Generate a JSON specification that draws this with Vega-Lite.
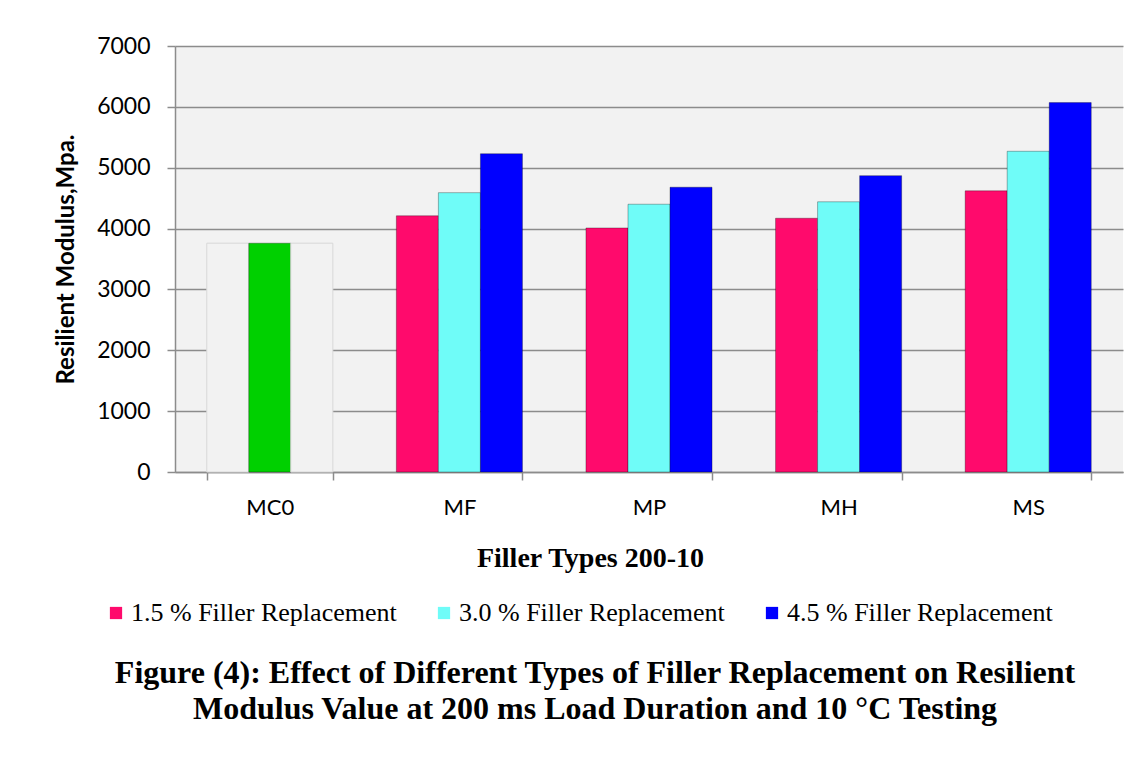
{
  "$schema": "https://vega.github.io/schema/vega-lite/v6.json",
  "autosize": {"type": "none"},
  "width": 948,
  "height": 426,
  "padding": {"left": 175, "top": 46, "right": 17, "bottom": 307},
  "background": "white",
  "config": {
    "view": {"fill": "#f2f2f2", "stroke": null},
    "axis": {"labelColor": "black", "titleColor": "black"}
  },
  "title": {
    "text": ["Figure (4): Effect of Different Types of Filler Replacement on Resilient", "Modulus Value at 200 ms Load Duration and 10 °C Testing"],
    "orient": "bottom",
    "anchor": "middle",
    "dx": -54,
    "offset": 32,
    "font": "Liberation Serif",
    "fontSize": 32,
    "fontWeight": "bold",
    "color": "black",
    "lineHeight": 36
  },
  "data": {
    "values": [
      {"type": "MC0", "series": "1.5 % Filler Replacement", "value": 3760},
      {"type": "MC0", "series": "3.0 % Filler Replacement", "value": 3760},
      {"type": "MC0", "series": "4.5 % Filler Replacement", "value": 3760},
      {"type": "MF", "series": "1.5 % Filler Replacement", "value": 4210},
      {"type": "MF", "series": "3.0 % Filler Replacement", "value": 4590},
      {"type": "MF", "series": "4.5 % Filler Replacement", "value": 5230},
      {"type": "MP", "series": "1.5 % Filler Replacement", "value": 4010},
      {"type": "MP", "series": "3.0 % Filler Replacement", "value": 4400},
      {"type": "MP", "series": "4.5 % Filler Replacement", "value": 4680},
      {"type": "MH", "series": "1.5 % Filler Replacement", "value": 4170},
      {"type": "MH", "series": "3.0 % Filler Replacement", "value": 4440},
      {"type": "MH", "series": "4.5 % Filler Replacement", "value": 4870},
      {"type": "MS", "series": "1.5 % Filler Replacement", "value": 4620},
      {"type": "MS", "series": "3.0 % Filler Replacement", "value": 5270},
      {"type": "MS", "series": "4.5 % Filler Replacement", "value": 6070}
    ]
  },
  "mark": {"type": "bar", "strokeWidth": 1},
  "encoding": {
    "x": {
      "field": "type",
      "type": "nominal",
      "sort": ["MC0", "MF", "MP", "MH", "MS"],
      "scale": {"paddingInner": 0.335, "paddingOuter": 0.1675},
      "axis": {
        "title": "Filler Types 200-10",
        "titleFont": "Liberation Serif",
        "titleFontSize": 28,
        "titleFontWeight": "bold",
        "titleX": 415,
        "titleY": 86,
        "titleAlign": "center",
        "titleBaseline": "middle",
        "labelAngle": 0,
        "labelFont": "Lato",
        "labelFontSize": 22,
        "labelPadding": 17,
        "tickBand": "extent",
        "tickSize": 8,
        "tickColor": "#8c8c8c",
        "tickWidth": 1.5,
        "domainColor": "#8c8c8c",
        "domainWidth": 1.5
      }
    },
    "xOffset": {
      "field": "series",
      "type": "nominal",
      "scale": {"paddingInner": 0, "paddingOuter": 0}
    },
    "y": {
      "field": "value",
      "type": "quantitative",
      "scale": {"domain": [0, 7000], "nice": false},
      "axis": {
        "title": "Resilient Modulus,Mpa.",
        "titleFont": "Lato",
        "titleFontSize": 24,
        "titleFontWeight": "bold",
        "titleX": -109,
        "titleBaseline": "middle",
        "values": [0, 1000, 2000, 3000, 4000, 5000, 6000, 7000],
        "format": "d",
        "labelFont": "Lato",
        "labelFontSize": 23,
        "labelPadding": 17,
        "tickSize": 8,
        "tickColor": "#8c8c8c",
        "tickWidth": 1.5,
        "domainColor": "#8c8c8c",
        "domainWidth": 1.5,
        "gridColor": "#8c8c8c",
        "gridWidth": 1.5
      }
    },
    "color": {
      "condition": [
        {"test": "datum.type === 'MC0' && datum.series === '3.0 % Filler Replacement'", "value": "#00d000"},
        {"test": "datum.type === 'MC0'", "value": "#f2f2f2"}
      ],
      "field": "series",
      "type": "nominal",
      "scale": {
        "domain": ["1.5 % Filler Replacement", "3.0 % Filler Replacement", "4.5 % Filler Replacement"],
        "range": ["#ff0a6c", "#6ffcf8", "#0000ff"]
      },
      "legend": {
        "title": null,
        "orient": "none",
        "direction": "horizontal",
        "legendX": -72,
        "legendY": 554,
        "symbolType": "square",
        "symbolSize": 150,
        "symbolStrokeWidth": 0,
        "symbolOpacity": 1,
        "labelFont": "Liberation Serif",
        "labelFontSize": 26,
        "labelColor": "black",
        "labelOffset": 2,
        "labelLimit": 400,
        "columnPadding": 34
      }
    },
    "stroke": {
      "condition": {"test": "datum.type === 'MC0' && datum.series !== '3.0 % Filler Replacement'", "value": "#d8d8d8"},
      "value": "rgba(0,0,0,0.3)"
    }
  }
}
